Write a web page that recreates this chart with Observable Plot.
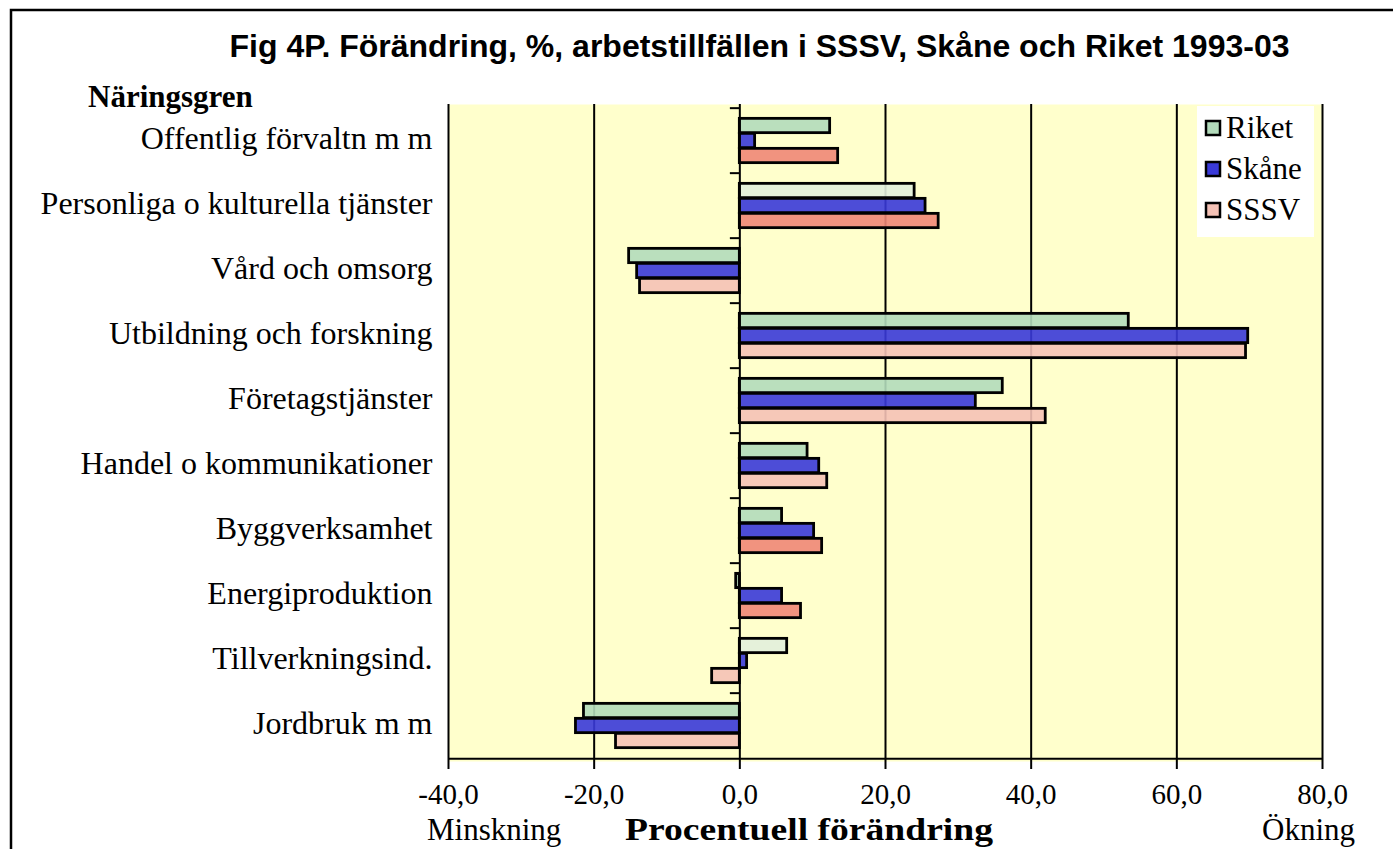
<!DOCTYPE html>
<html><head><meta charset="utf-8">
<script src="https://cdn.jsdelivr.net/npm/d3@7"></script>
<script src="https://cdn.jsdelivr.net/npm/@observablehq/plot@0.6"></script>
<style>
html,body{margin:0;padding:0;background:#fff;overflow:hidden}
#wrap{position:relative;width:1393px;height:849px}
</style></head><body><div id="wrap"></div>
<script>
// ---- data ----
const categories = ["Offentlig förvaltn m m","Personliga o kulturella tjänster","Vård och omsorg","Utbildning och forskning","Företagstjänster","Handel o kommunikationer","Byggverksamhet","Energiproduktion","Tillverkningsind.","Jordbruk m m"];
const seriesNames = ["Riket","Skåne","SSSV"];
const riket = [12.4, 24.0, -15.2, 53.4, 36.1, 9.3, 5.8, -0.5, 6.5, -21.4];
const skane = [2.1, 25.5, -14.1, 69.8, 32.4, 10.9, 10.2, 5.8, 1.0, -22.5];
const sssv  = [13.5, 27.3, -13.7, 69.5, 42.0, 12.0, 11.3, 8.4, -3.8, -17.0];
const xTicks = [-40, -20, 0, 20, 40, 60, 80];
const titleText = "Fig 4P. Förändring, %, arbetstillfällen i SSSV, Skåne och Riket 1993-03";
const yTitle = "Näringsgren";
const xTitle = "Procentuell förändring";
const leftNote = "Minskning";
const rightNote = "Ökning";

// ---- styles ----
const seriesColors = {Riket: "#b3dbbb", "Skåne": "#3a3ad8", SSSV: "#f5c2b6"};
const altColors = {Riket: "#e2efdc", SSSV: "#ef8777"};
const altShadeBars = {
  Riket: ["Personliga o kulturella tjänster", "Tillverkningsind."],
  SSSV: ["Offentlig förvaltn m m", "Personliga o kulturella tjänster", "Byggverksamhet", "Energiproduktion"]
};

const seriesValues = [riket, skane, sssv];
const rows = categories.flatMap((c, i) => seriesNames.map((s, j) => ({category: c, series: s, value: seriesValues[j][i]})));
const colorOf = r => (altShadeBars[r.series] || []).includes(r.category) ? altColors[r.series] : seriesColors[r.series];

const W = 1393, H = 849, mL = 448, mR = 71, mT = 104, mB = 88;
const band = (H - mT - mB) / categories.length;
const barH = 15;
const serif = "'Liberation Serif','Times New Roman',Times,serif";
const sans = "'Liberation Sans',Arial,Helvetica,sans-serif";

const chart = Plot.plot({
  width: W, height: H,
  marginLeft: mL, marginRight: mR, marginTop: mT, marginBottom: mB,
  style: {background: "transparent", fontFamily: serif, fontSize: "30px", color: "#000", overflow: "visible"},
  x: {domain: [xTicks[0], xTicks[xTicks.length - 1]]},
  y: {domain: categories, padding: 0},
  color: {type: "identity"},
  marks: [
    Plot.frame({fill: "#ffffcc", stroke: null}),
    Plot.ruleX(xTicks.filter(d => d !== 0), {stroke: "#000", strokeWidth: 2}),
    ...seriesNames.map((s, j) => Plot.barX(rows.filter(r => r.series === s), {
      x: "value", y: "category", fill: colorOf, fillOpacity: 0.9,
      stroke: "#000", strokeWidth: 2.8,
      insetTop: (band - barH) / 2, insetBottom: (band - barH) / 2, dy: (j - 1) * barH
    })),
    Plot.ruleX([0], {stroke: "#000", strokeWidth: 2}),
    Plot.ruleY(categories, {x1: -1.3, x2: 0, dy: -band / 2, stroke: "#000", strokeWidth: 2}),
    Plot.ruleY(categories.slice(-1), {dy: band / 2, stroke: "#000", strokeWidth: 2}),
    Plot.axisX({ticks: xTicks, tickFormat: d => d.toFixed(1).replace(".", ","), tickSize: 8, tickPadding: 14,
      strokeWidth: 2, fontSize: 29, label: null}),
    Plot.axisY({tickSize: 0, tickPadding: 16, fontSize: 32, label: null, dy: -2})
  ]
});
document.getElementById("wrap").appendChild(chart);

// ---- annotations ----
const svg = d3.select(chart);
const ann = svg.append("g").attr("text-anchor", "start");
ann.append("path").attr("d", `M11,${H} V10 H${W}`).attr("fill", "none").attr("stroke", "#000").attr("stroke-width", 2.5);
ann.append("text").attr("x", 759.5).attr("y", 57).attr("text-anchor", "middle")
  .attr("font-family", sans).attr("font-weight", "bold").attr("font-size", 32).text(titleText);
ann.append("text").attr("x", 88).attr("y", 107).attr("text-anchor", "start").attr("font-family", serif).attr("font-weight", "bold")
  .attr("font-size", 31).text(yTitle);
ann.append("text").attr("x", 427).attr("y", 840).attr("text-anchor", "start").attr("font-family", serif).attr("font-size", 31).text(leftNote);
ann.append("text").attr("x", 625).attr("y", 840).attr("text-anchor", "start").attr("font-family", serif)
  .attr("font-weight", "bold").attr("font-size", 31).attr("textLength", 368).attr("lengthAdjust", "spacingAndGlyphs").text(xTitle);
ann.append("text").attr("x", 1262).attr("y", 840).attr("text-anchor", "start").attr("font-family", serif).attr("font-size", 31).text(rightNote);

// legend
const lg = svg.append("g").attr("text-anchor", "start");
lg.append("rect").attr("x", 1197).attr("y", 106).attr("width", 117).attr("height", 131).attr("fill", "#fff");
seriesNames.forEach((s, i) => {
  const base = 138 + i * 41;
  lg.append("rect").attr("x", 1206).attr("y", base - 17).attr("width", 14).attr("height", 14)
    .attr("fill", seriesColors[s]).attr("stroke", "#000").attr("stroke-width", 2.5);
  lg.append("text").attr("x", 1226).attr("y", base).attr("text-anchor", "start").attr("font-family", serif).attr("font-size", 31).text(s);
});
</script></body></html>
